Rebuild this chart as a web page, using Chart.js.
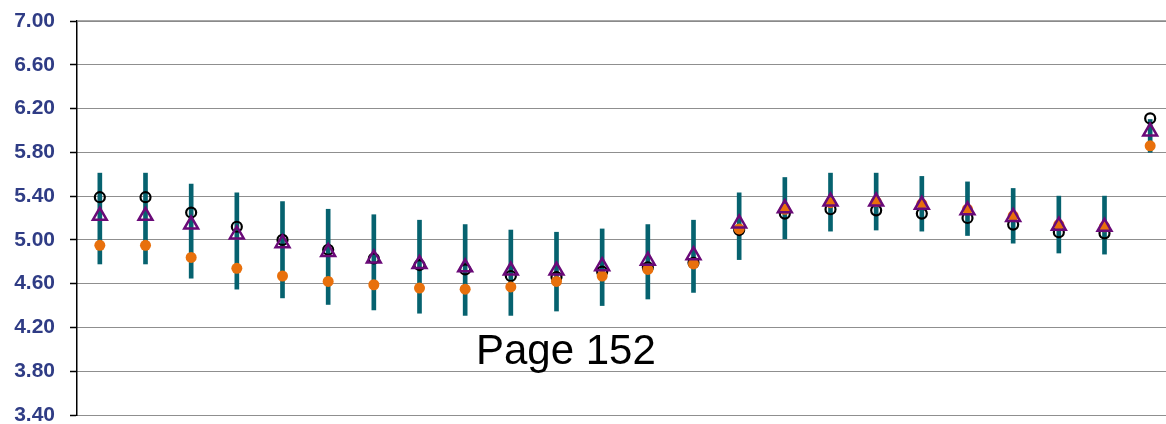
<!DOCTYPE html>
<html>
<head>
<meta charset="utf-8">
<script src="https://cdn.jsdelivr.net/npm/chart.js@4.4.0/dist/chart.umd.min.js"></script>
<style>
  html, body { margin: 0; padding: 0; background: #fff; overflow: hidden; }
  #wrap { position: relative; width: 1173px; height: 424px; }
  #pageLabel {
    position: absolute; left: 476px; top: 326px;
    font-family: "Liberation Sans", Arial, sans-serif; font-size: 42px; color: #000;
    white-space: nowrap;
  }
</style>
</head>
<body>
<div id="wrap">
  <canvas id="myChart" width="1173" height="424"></canvas>
  <div id="pageLabel">Page 152</div>
</div>
<script>
const categories = ['1','2','3','4','5','6','7','8','9','10','11','12','13','14','15','16','17','18','19','20','21','22','23','24'];

const yTicks = [3.40, 3.80, 4.20, 4.60, 5.00, 5.40, 5.80, 6.20, 6.60, 7.00];

// range bars (low / high)
const rangeLow  = [4.78, 4.78, 4.65, 4.55, 4.47, 4.41, 4.36, 4.33, 4.31, 4.31, 4.35, 4.40, 4.46, 4.52, 4.82, 5.01, 5.08, 5.09, 5.08, 5.04, 4.97, 4.88, 4.87, 5.80];
const rangeHigh = [5.61, 5.61, 5.51, 5.43, 5.35, 5.28, 5.23, 5.18, 5.14, 5.09, 5.07, 5.10, 5.14, 5.18, 5.43, 5.57, 5.61, 5.61, 5.58, 5.53, 5.47, 5.40, 5.40, 6.10];

// markers
const blackCircle = [5.39, 5.39, 5.25, 5.12, 5.00, 4.91, 4.83, 4.77, 4.73, 4.67, 4.66, 4.71, 4.75, 4.79, 5.09, 5.24, 5.28, 5.27, 5.24, 5.20, 5.14, 5.07, 5.06, 6.11];
const triangle    = [5.22, 5.22, 5.14, 5.05, 4.97, 4.89, 4.83, 4.78, 4.75, 4.72, 4.72, 4.76, 4.81, 4.86, 5.15, 5.29, 5.35, 5.35, 5.32, 5.27, 5.21, 5.13, 5.12, 5.99];
const orangeDot   = [4.95, 4.95, 4.84, 4.74, 4.67, 4.62, 4.59, 4.56, 4.55, 4.57, 4.62, 4.67, 4.73, 4.78, 5.10, 5.28, 5.34, 5.35, 5.33, 5.28, 5.22, 5.14, 5.12, 5.86];

const topLine = {
  id: 'topLine',
  afterDraw(chart) {
    const a = chart.chartArea, c = chart.ctx;
    c.save();
    c.strokeStyle = '#8a8a8a';
    c.lineWidth = 1.5;
    c.beginPath();
    c.moveTo(a.left, a.top);
    c.lineTo(a.right, a.top);
    c.stroke();
    c.restore();
  }
};

const ctx = document.getElementById('myChart');

new Chart(ctx, {
  type: 'bar',
  data: {
    labels: categories,
    datasets: [
      {
        type: 'line',
        data: triangle,
        showLine: false,
        pointStyle: 'triangle',
        pointRadius: 8,
        pointBorderWidth: 2.5,
        pointBackgroundColor: 'rgba(0,0,0,0)',
        pointBorderColor: '#6a0a78',
        order: 1
      },
      {
        type: 'line',
        data: orangeDot,
        showLine: false,
        pointStyle: 'circle',
        pointRadius: 5.5,
        pointBorderWidth: 0,
        pointBackgroundColor: '#e8700c',
        pointBorderColor: '#e8700c',
        order: 2
      },
      {
        type: 'line',
        data: blackCircle,
        showLine: false,
        pointStyle: 'circle',
        pointRadius: 5,
        pointBorderWidth: 2.2,
        pointBackgroundColor: 'rgba(0,0,0,0)',
        pointBorderColor: '#000',
        order: 3
      },
      {
        data: rangeLow.map((lo, i) => [lo, rangeHigh[i]]),
        backgroundColor: '#06626f',
        borderWidth: 0,
        barThickness: 4,
        order: 4
      }
    ]
  },
  options: {
    responsive: false,
    animation: false,
    layout: { autoPadding: false, padding: { top: 21, bottom: 9, left: 0, right: 0 } },
    plugins: { legend: { display: false }, tooltip: { enabled: false } },
    scales: {
      x: {
        display: false,
        offset: true
      },
      y: {
        min: 3.40,
        max: 7.00,
        afterBuildTicks: axis => { axis.ticks = yTicks.map(v => ({ value: v })); },
        afterFit: axis => {
          axis.width = 77;
          axis.paddingTop = 0;
          axis.paddingBottom = 0;
        },
        ticks: {
          padding: 15,
          color: '#2f3c85',
          font: { family: '"Liberation Sans", Arial, sans-serif', size: 21, weight: 'bold' },
          callback: v => Number(v).toFixed(2)
        },
        grid: {
          color: '#1e1e1e',
          lineWidth: 1,
          tickLength: 7,
          tickColor: '#000',
          tickWidth: 1.5
        },
        border: {
          display: true,
          color: '#000',
          width: 1.5,
          dash: [1, 1]
        }
      }
    }
  },
  plugins: [topLine]
});
</script>
</body>
</html>
